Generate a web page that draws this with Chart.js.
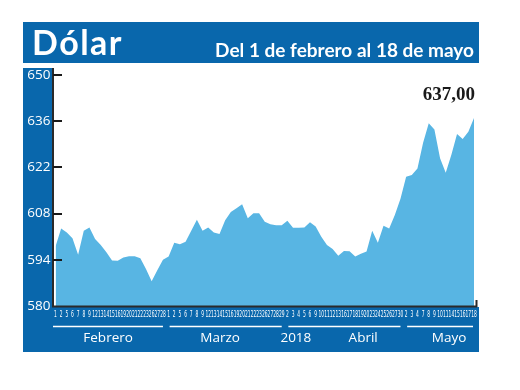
<!DOCTYPE html>
<html><head><meta charset="utf-8">
<script src="https://cdn.jsdelivr.net/npm/chart.js@4.4.1/dist/chart.umd.min.js"></script>
<style>html,body{margin:0;padding:0;background:#fff;overflow:hidden}canvas{display:block}</style>
</head><body>
<canvas id="c" width="520" height="390"></canvas>
<script>
// ---- data ----
const febDays = [1,2,5,6,7,8,9,12,13,14,15,16,19,20,21,22,23,26,27,28];
const marDays = [1,2,5,6,7,8,9,12,13,14,15,16,19,20,21,22,23,26,27,28,29];
const aprDays = [2,3,4,5,6,9,10,11,12,13,16,17,18,19,20,23,24,25,26,27,30];
const mayDays = [2,3,4,7,8,9,10,11,14,15,16,17,18];

const febValues = [598.0,603.5,602.3,600.5,595.5,602.8,603.8,600.3,598.5,596.3,593.8,593.7,594.7,595.1,595.1,594.5,591.2,587.5,590.8,594.0];
const marValues = [595.0,599.2,598.7,599.5,602.8,606.1,602.8,603.8,602.3,601.8,606.0,608.5,609.6,610.8,606.6,608.1,608.1,605.5,604.8,604.5,604.5];
const aprValues = [605.8,603.7,603.7,603.8,605.4,604.1,601.0,598.5,597.3,595.2,596.7,596.6,595.0,595.8,596.5,602.8,599.2,604.3,603.5,607.6,612.5];
const mayValues = [619.2,619.7,621.7,629.5,635.4,633.5,624.8,620.4,625.8,632.1,630.6,632.8,637.0];

const yTicks = [580,594,608,622,636,650];
const monthNames = ['Febrero','Marzo','Abril','Mayo'];
const yearLabel = '2018';
const titleText = 'Dólar';
const subtitleText = 'Del 1 de febrero al 18 de mayo';
const lastValueLabel = '637,00';

// ---- build ----
const months = [febDays, marDays, aprDays, mayDays];
const labels = [].concat(febDays, marDays, aprDays, mayDays).map(String);
const values = [].concat(febValues, marValues, aprValues, mayValues);

const BLUE = '#0967AC';
const FILL = '#58B5E3';
// label anchor positions (fractional category index), layout only
const monthLabelAt = [9.3, 29.1, 54.4, 69.6];
const yearLabelAt = 42.5;

const deco = {
  id: 'deco',
  beforeDraw(chart) {
    const ctx = chart.ctx;
    ctx.save();
    ctx.fillStyle = '#fff';
    ctx.fillRect(0, 0, 520, 390);
    ctx.fillStyle = BLUE;
    ctx.fillRect(23, 22, 456, 41);
    ctx.fillRect(23, 68, 30, 240);
    ctx.fillRect(23, 307, 456, 45);
    ctx.fillStyle = '#fff';
    ctx.textBaseline = 'alphabetic';
    ctx.textAlign = 'left';
    ctx.font = 'bold 34px Lato';
    ctx.letterSpacing = '1.5px';
    ctx.fillText(titleText, 32, 55);
    ctx.letterSpacing = '0px';
    ctx.textAlign = 'right';
    ctx.font = 'bold 19px Lato';
    ctx.fillText(subtitleText, 474, 57);
    ctx.restore();
  },
  afterDatasetsDraw(chart) {
    const ctx = chart.ctx;
    const xs = chart.scales.x, ys = chart.scales.y;
    const pos = f => {
      const i = Math.floor(f), t = f - i;
      const a = xs.getPixelForValue(i), b = xs.getPixelForValue(Math.min(i + 1, labels.length - 1));
      return a + (b - a) * t;
    };
    ctx.save();
    // axis lines
    ctx.strokeStyle = '#2a2a2a';
    ctx.lineWidth = 2;
    ctx.beginPath();
    ctx.moveTo(53, 68); ctx.lineTo(53, 307.5);
    ctx.moveTo(52, 306.5); ctx.lineTo(477, 306.5);
    ctx.moveTo(476.5, 300); ctx.lineTo(476.5, 307);
    ctx.stroke();
    // y tick marks
    ctx.strokeStyle = '#1a1a1a';
    ctx.lineWidth = 2;
    ctx.beginPath();
    yTicks.slice(1).forEach(v => {
      const y = Math.round(ys.getPixelForValue(v));
      ctx.moveTo(53, y); ctx.lineTo(62, y);
    });
    ctx.stroke();
    // x day labels (condensed)
    ctx.fillStyle = '#fff';
    ctx.font = '8px "DejaVu Sans"';
    ctx.textAlign = 'center';
    ctx.textBaseline = 'middle';
    labels.forEach((l, i) => {
      const x = xs.getPixelForValue(i);
      ctx.save();
      ctx.translate(x, 314.5);
      ctx.scale(0.55, 1);
      ctx.fillText(l, 0, 0);
      ctx.restore();
    });
    // month separators
    ctx.strokeStyle = '#fff';
    ctx.lineWidth = 1.5;
    ctx.beginPath();
    let start = 0;
    months.forEach((m, k) => {
      const first = start, last = start + m.length - 1;
      const x0 = k === 0 ? 53 : xs.getPixelForValue(first) + 1;
      const x1 = xs.getPixelForValue(last) - (k === 3 ? 1 : 0);
      ctx.moveTo(x0, 326.5); ctx.lineTo(x1, 326.5);
      start += m.length;
    });
    ctx.stroke();
    // month labels
    ctx.font = '13.5px "Open Sans"';
    ctx.textBaseline = 'middle';
    monthNames.forEach((n, k) => ctx.fillText(n, pos(monthLabelAt[k]), 338));
    ctx.fillText(yearLabel, pos(yearLabelAt), 338);
    // last value label
    const lastIdx = values.length - 1;
    const px = xs.getPixelForValue(lastIdx), py = ys.getPixelForValue(values[lastIdx]);
    ctx.fillStyle = '#1a1a1a';
    ctx.font = 'bold 19px "Liberation Serif"';
    ctx.textAlign = 'right';
    ctx.textBaseline = 'alphabetic';
    ctx.fillText(lastValueLabel, px + 1, py - 18);
    ctx.restore();
  }
};

new Chart(document.getElementById('c'), {
  type: 'line',
  data: {
    labels,
    datasets: [{
      data: values,
      fill: 'start',
      backgroundColor: FILL,
      borderWidth: 0,
      borderColor: FILL,
      pointRadius: 0,
      tension: 0
    }]
  },
  options: {
    responsive: false,
    animation: false,
    devicePixelRatio: 1,
    layout: { padding: { left: 23, right: 46, top: 75, bottom: 0 } },
    plugins: { legend: { display: false }, tooltip: { enabled: false } },
    scales: {
      x: {
        type: 'category',
        offset: false,
        grid: { display: false },
        border: { display: false },
        ticks: { display: false },
        afterFit: s => { s.height = 84; }
      },
      y: {
        min: 580, max: 650,
        grid: { display: false, drawTicks: false },
        border: { display: false },
        afterBuildTicks: s => { s.ticks = yTicks.map(v => ({ value: v })); },
        ticks: { color: '#fff', padding: 5, font: { family: 'Open Sans', size: 13.5 } },
        afterFit: s => { s.width = 32.5; }
      }
    }
  },
  plugins: [deco]
});
</script>
</body></html>
